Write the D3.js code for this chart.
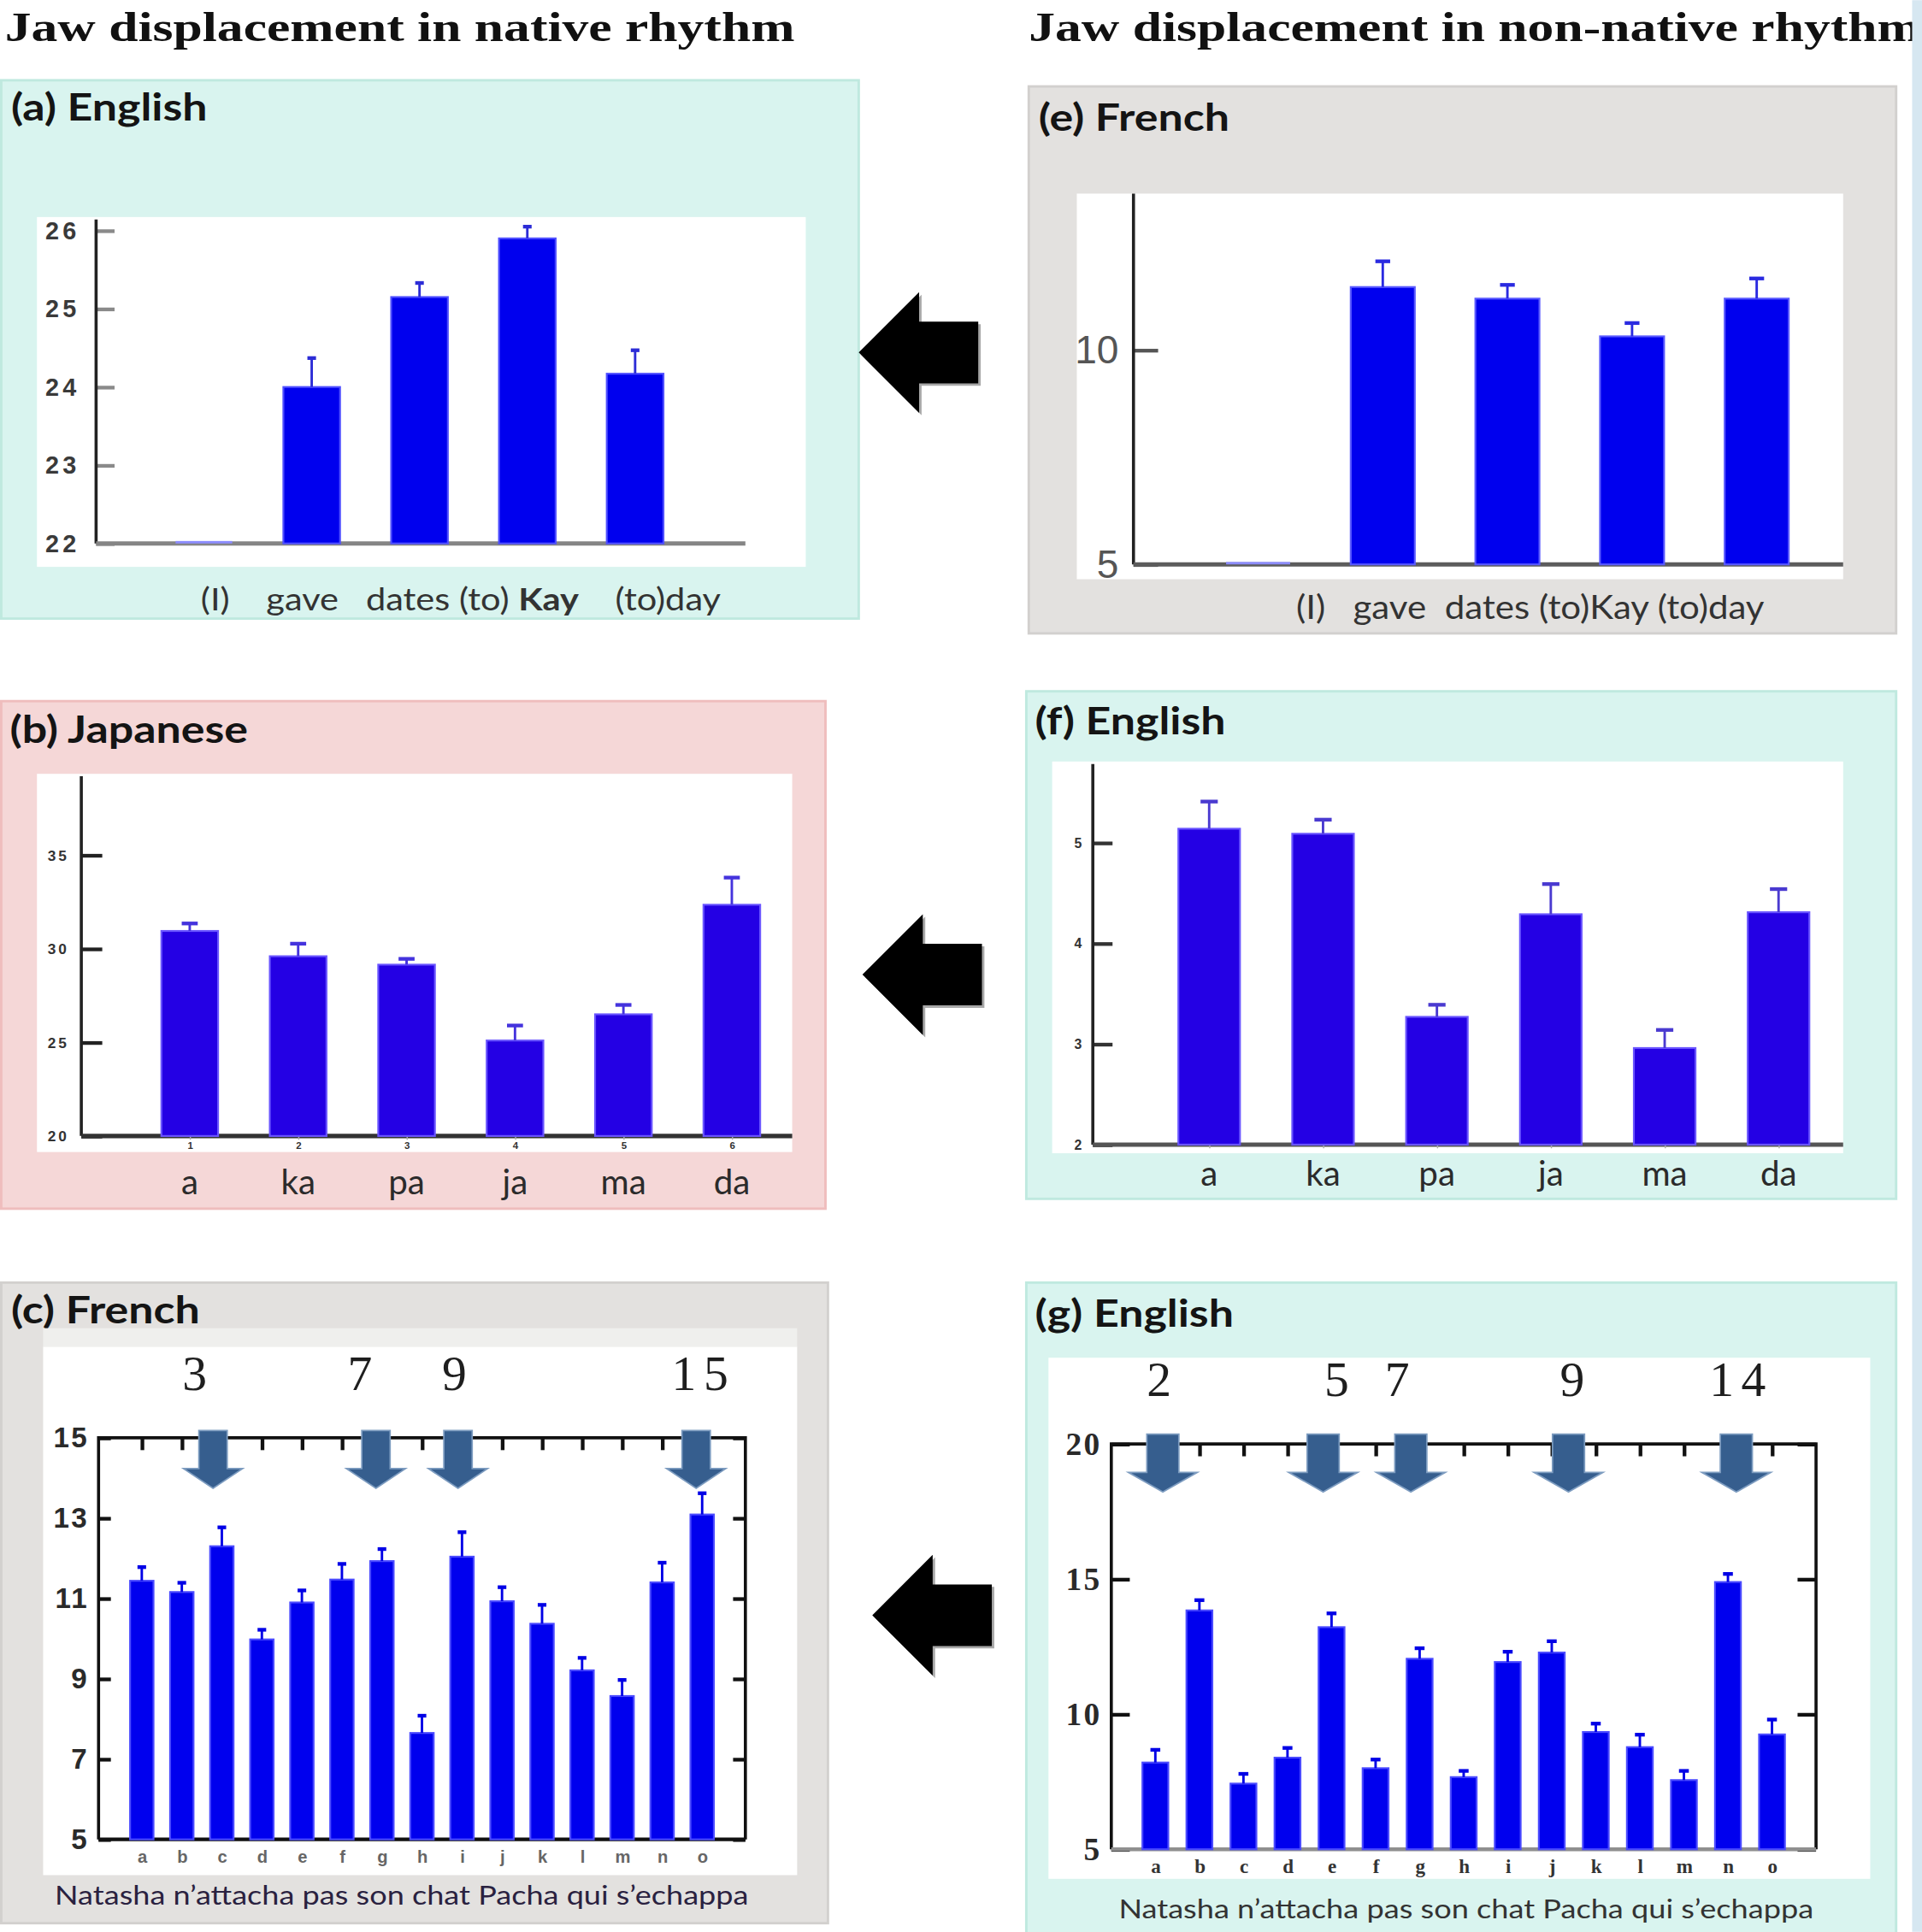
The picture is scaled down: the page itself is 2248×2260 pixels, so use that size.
<!DOCTYPE html>
<html>
<head>
<meta charset="utf-8">
<script src="https://cdn.jsdelivr.net/npm/d3@7"></script>
<style>
  body { margin: 0; background: #fff; }
</style>
</head>
<body>
<script>
// values (jaw displacement, mean and s.e.)
const wordsA = ['(I)', 'gave', 'dates', '(to)Kay', '(to)day']
const jawA = [22, 24.0, 25.15, 25.9, 24.17]
const seA = [0, 0.37, 0.18, 0.15, 0.3]
const ticksA = [22, 23, 24, 25, 26]

const jawE = [5, 11.47, 11.2, 10.32, 11.2]
const seE = [0, 0.6, 0.32, 0.31, 0.47]
const ticksE = [5, 10]

const syllables = ['a', 'ka', 'pa', 'ja', 'ma', 'da']
const jawB = [30.95, 29.6, 29.15, 25.1, 26.5, 32.35]
const seB = [0.4, 0.67, 0.31, 0.8, 0.5, 1.45]
const ticksB = [20, 25, 30, 35]

const jawF = [5.14, 5.09, 3.27, 4.29, 2.96, 4.31]
const seF = [0.27, 0.14, 0.12, 0.3, 0.18, 0.23]
const ticksF = [2, 3, 4, 5]

const letters = 'abcdefghijklmno'.split('')
const jawC = [11.44, 11.16, 12.3, 9.98, 10.9, 11.47, 11.93, 7.65, 12.04, 10.93, 10.37, 9.21, 8.57, 11.4, 13.09]
const seC = [0.34, 0.23, 0.47, 0.24, 0.3, 0.39, 0.3, 0.43, 0.61, 0.35, 0.47, 0.31, 0.4, 0.49, 0.53]
const ticksC = [5, 7, 9, 11, 13, 15]
const stressC = [3, 7, 9, 15]
const arrowAtC = [1.78, 5.85, 7.9, 13.85]   // in bar-index units

const jawG = [8.21, 13.84, 7.43, 8.39, 13.22, 8.0, 12.05, 7.67, 11.93, 12.28, 9.34, 8.78, 7.56, 14.89, 9.25]
const seG = [0.47, 0.38, 0.36, 0.36, 0.51, 0.32, 0.39, 0.23, 0.38, 0.42, 0.31, 0.46, 0.34, 0.3, 0.55]
const ticksG = [5, 10, 15, 20]
const stressG = [2, 5, 7, 9, 14]
const arrowAtG = [0.17, 3.81, 5.8, 9.38, 13.19]

const sentence = 'Natasha n\u2019attacha pas son chat Pacha qui s\u2019echappa'

const sans = 'Lato, "Open Sans", sans-serif'
const serif = '"Liberation Serif", "DejaVu Serif", serif'
const mint = '#d9f4ef', mintEdge = '#bfe9df'
const grey = '#e3e1df', greyEdge = '#d2d0ce'
const intFmt = d3.format('d')

// drawn in the 1560x1568 space of the reference, scaled up to the page
const svg = d3.select('body').append('svg')
  .attr('width', 2248).attr('height', 2260)
  .attr('viewBox', '0 0 1560 1568')

// the source figure is a bit stretched sideways; widen text to suit
function widen(sel, k) {
  sel.attr('textLength', sel.node().getComputedTextLength() * k).attr('lengthAdjust', 'spacingAndGlyphs')
  return sel
}

// headings
const h1 = svg.append('text').attr('x', 4).attr('y', 33)
  .style('font-family', serif).style('font-weight', 700).style('font-size', '33px')
  .attr('fill', '#111').text('Jaw displacement in native rhythm')
const h2 = svg.append('text').attr('x', 835).attr('y', 33)
  .style('font-family', serif).style('font-weight', 700).style('font-size', '33px')
  .attr('fill', '#111').text('Jaw displacement in non-native rhythm')
const stretch = 641 / h1.node().getComputedTextLength()
widen(h1, stretch)
widen(h2, stretch)

function panel(o) {
  const g = svg.append('g')
  g.append('rect').attr('x', o.box[0] + 1).attr('y', o.box[1]).attr('width', o.box[2] - 2).attr('height', o.box[3])
    .attr('fill', o.bg).attr('stroke', o.edge).attr('stroke-width', 2)
  const lab = g.append('text').attr('x', o.box[0] + o.labelDx).attr('y', o.labelY).text(o.label)
    .style('font-family', sans).style('font-weight', 700).style('font-size', '30px').attr('fill', '#141414')
  widen(lab, 1.2)
  g.append('rect').attr('x', o.plot[0]).attr('y', o.plot[1]).attr('width', o.plot[2]).attr('height', o.plot[3])
    .attr('fill', '#fff')
  const x = d3.scalePoint().domain(d3.range(o.vals.length)).range(o.xRange).padding(o.pad)
  const y = d3.scaleLinear().domain(o.yDomain).range(o.yRange)
  return { g, x, y }
}

function bars(p, o) {
  const { g, x, y } = p
  const base = y(o.yDomain[0])
  const rows = o.vals.map((v, i) => ({ v, i, se: o.se[i] }))
  g.append('g').selectAll('rect').data(rows).join('rect')
    .attr('x', d => x(d.i) - o.barW / 2)
    .attr('y', d => Math.min(y(d.v), base - 2))
    .attr('width', o.barW)
    .attr('height', d => Math.max(base - y(d.v), 2))
    .attr('fill', d => d.v > o.yDomain[0] ? o.color : '#8c8cff')
    .attr('stroke', d => d.v > o.yDomain[0] ? o.rim : 'none')
    .attr('stroke-width', 1.5)
  const err = rows.filter(d => d.se > 0)
  const eb = g.append('g').attr('stroke', o.errColor)
  eb.selectAll('line.stem').data(err).join('line').attr('class', 'stem')
    .attr('x1', d => x(d.i)).attr('x2', d => x(d.i))
    .attr('y1', d => y(d.v)).attr('y2', d => y(d.v + d.se))
    .attr('stroke-width', 2)
  eb.selectAll('line.cap').data(err).join('line').attr('class', 'cap')
    .attr('x1', d => x(d.i) - o.capW / 2).attr('x2', d => x(d.i) + o.capW / 2)
    .attr('y1', d => y(d.v + d.se)).attr('y2', d => y(d.v + d.se))
    .attr('stroke-width', 3)
}

function openAxes(p, o) {
  const { g, y } = p
  const base = y(o.yDomain[0])
  const ax = g.append('g').attr('transform', `translate(${o.axisX},0)`)
    .call(d3.axisLeft(y).tickValues(o.ticks).tickFormat(intFmt).tickSize(-o.tickLen).tickPadding(o.tickPad))
  ax.select('.domain').remove()
  ax.selectAll('line').attr('stroke', o.tickColor).attr('stroke-width', 3)
  ax.selectAll('text').style('font-family', o.tickFont).style('font-size', o.tickSize + 'px')
    .style('font-weight', o.tickWeight).attr('fill', o.tickFill).attr('letter-spacing', o.tickSpacing || 0)
  g.append('line').attr('x1', o.axisX).attr('x2', o.axisX).attr('y1', o.axisTop).attr('y2', base)
    .attr('stroke', '#222').attr('stroke-width', 2.5)
  g.append('line').attr('x1', o.axisX).attr('x2', o.xEnd).attr('y1', base).attr('y2', base)
    .attr('stroke', o.baseColor).attr('stroke-width', 3.5)
}

function syllableLabels(p, o) {
  const ax = p.g.append('g').attr('transform', `translate(0,${p.y(o.yDomain[0])})`)
    .call(d3.axisBottom(p.x).tickSize(3).tickPadding(2).tickFormat(i => o.digits ? i + 1 : ''))
  ax.select('.domain').remove()
  ax.selectAll('line').attr('stroke', '#aaa')
  ax.selectAll('text').style('font-size', '8px').style('font-weight', 700).attr('fill', '#333')
  p.g.append('g').selectAll('text').data(syllables).join('text')
    .attr('x', (d, i) => p.x(i)).attr('y', o.syllY).attr('text-anchor', 'middle')
    .style('font-family', sans).style('font-size', '28px').attr('fill', '#2b2b2b').text(d => d)
}

function framedAxes(p, o) {
  const { g, x, y } = p
  const [fx0, fy0, fx1, fy1] = o.frame
  const left = g.append('g').attr('transform', `translate(${fx0},0)`)
    .call(d3.axisLeft(y).tickValues(o.ticks).tickFormat(intFmt).tickSize(-o.tickLen).tickPadding(o.tickPad))
  const right = g.append('g').attr('transform', `translate(${fx1},0)`)
    .call(d3.axisRight(y).tickValues(o.ticks).tickSize(-o.tickLen).tickFormat(''))
  const top = g.append('g').attr('transform', `translate(0,${fy0})`)
    .call(d3.axisTop(x).tickSize(-10).tickFormat(''))
  const bottom = g.append('g').attr('transform', `translate(0,${fy1})`)
    .call(d3.axisBottom(x).tickSize(0).tickPadding(o.letterPad).tickFormat(i => letters[i]))
  for (const a of [left, right, top, bottom]) {
    a.select('.domain').remove()
    a.selectAll('line').attr('stroke', '#111').attr('stroke-width', 3)
  }
  left.selectAll('text').style('font-family', o.tickFont).style('font-size', o.tickSize + 'px')
    .style('font-weight', 700).attr('fill', '#2a2a2a').attr('letter-spacing', 1.5)
  bottom.selectAll('text').style('font-family', o.letterFont).style('font-size', o.letterSize + 'px')
    .style('font-weight', 700).attr('fill', o.letterFill)
  g.append('path').attr('d', `M${fx0},${fy1}V${fy0}H${fx1}V${fy1}`)
    .attr('fill', 'none').attr('stroke', '#111').attr('stroke-width', 2.5)
  g.append('line').attr('x1', fx0).attr('x2', fx1).attr('y1', fy1).attr('y2', fy1)
    .attr('stroke', o.bottomColor).attr('stroke-width', 3)
}

function stressArrows(p, o) {
  const n = o.vals.length
  const pos = d3.scaleLinear().domain([0, n - 1]).range([p.x(0), p.x(n - 1)])
  const a = o.arrow
  p.g.append('g').selectAll('path').data(o.arrowAt).join('path')
    .attr('d', d => {
      const cx = pos(d)
      return `M${cx - a.sw},${a.top}H${cx + a.sw}V${a.head}H${cx + a.hw}L${cx},${a.tip}L${cx - a.hw},${a.head}H${cx - a.sw}Z`
    })
    .attr('fill', '#365e8e').attr('stroke', '#7d9cc0').attr('stroke-width', 1.2)
  p.g.append('g').selectAll('text').data(o.stress).join('text')
    .attr('x', (d, i) => pos(o.arrowAt[i]) + o.numDx[i]).attr('y', o.numY).attr('text-anchor', 'middle')
    .style('font-family', serif).style('font-size', '40px').attr('fill', '#1e1e1e')
    .attr('letter-spacing', 6).text(d => d)
}

// (a) English, native
const optA = {
  box: [0, 65, 698, 437], bg: mint, edge: mintEdge, label: '(a) English', labelDx: 9, labelY: 98,
  plot: [30, 176, 624, 284], vals: jawA, se: seA, yDomain: [22, 26], yRange: [441, 187],
  xRange: [78, 603], pad: 1, barW: 46, color: '#0000ee', rim: '#5050ff', errColor: '#2c2cd6', capW: 7,
  axisX: 78, axisTop: 178, xEnd: 605, ticks: ticksA, tickLen: 15, tickPad: 13, tickColor: '#8a8a8a',
  tickFont: '"Liberation Sans", Arial, sans-serif', tickSize: 20, tickWeight: 700, tickFill: '#3a3a3a',
  tickSpacing: 3, baseColor: '#858585'
}
const pA = panel(optA)
openAxes(pA, optA)
bars(pA, optA)
const capA = pA.g.append('text').attr('x', 374).attr('y', 495).attr('text-anchor', 'middle')
  .attr('textLength', 422).attr('lengthAdjust', 'spacingAndGlyphs')
  .style('font-family', sans).style('font-size', '25px').style('white-space', 'pre').attr('fill', '#333')
capA.append('tspan').text(`${wordsA[0]}    ${wordsA[1]}   ${wordsA[2]} (to) `)
capA.append('tspan').style('font-weight', 700).text(wordsA[3].replace('(to)', ''))
capA.append('tspan').text(`    ${wordsA[4]}`)

// (e) French speakers, English sentence
const optE = {
  box: [834, 70, 706, 444], bg: grey, edge: greyEdge, label: '(e) French', labelDx: 9, labelY: 106,
  plot: [874, 157, 622, 313], vals: jawE, se: seE, yDomain: [5, 10], yRange: [458, 284],
  xRange: [920, 1527], pad: 1, barW: 52, color: '#0000ee', rim: '#5a5aff', errColor: '#2a2ae0', capW: 12,
  axisX: 920, axisTop: 157, xEnd: 1496, ticks: ticksE, tickLen: 20, tickPad: 12, tickColor: '#555',
  tickFont: '"Liberation Sans Narrow", "Liberation Sans", sans-serif', tickSize: 32, tickWeight: 400,
  tickFill: '#555', baseColor: '#5c5c5c'
}
const pE = panel(optE)
openAxes(pE, optE)
bars(pE, optE)
pE.g.append('text').attr('x', 1242).attr('y', 502).attr('text-anchor', 'middle')
  .attr('textLength', 380).attr('lengthAdjust', 'spacingAndGlyphs')
  .style('font-family', sans).style('font-size', '27px').style('white-space', 'pre').attr('fill', '#333')
  .text(`${wordsA[0]}   ${wordsA[1]}  ${wordsA[2]} ${wordsA[3]} ${wordsA[4]}`)

// (b) Japanese, native
const optB = {
  box: [0, 569, 671, 412], bg: '#f5d7d7', edge: '#efbdbd', label: '(b) Japanese', labelDx: 8, labelY: 603,
  plot: [30, 628, 613, 307], vals: jawB, se: seB, yDomain: [20, 35], yRange: [922, 694],
  xRange: [66, 682], pad: 1, barW: 46, color: '#2400e4', rim: '#6a55ff', errColor: '#4433dd', capW: 13,
  axisX: 66, axisTop: 630, xEnd: 643, ticks: ticksB, tickLen: 17, tickPad: 10, tickColor: '#222',
  tickFont: '"Liberation Sans", sans-serif', tickSize: 12, tickWeight: 700, tickFill: '#333',
  tickSpacing: 2, baseColor: '#333', syllY: 969, digits: true
}
const pB = panel(optB)
openAxes(pB, optB)
syllableLabels(pB, optB)
bars(pB, optB)

// (f) English speakers, Japanese syllables
const optF = {
  box: [832, 561, 708, 412], bg: mint, edge: mintEdge, label: '(f) English', labelDx: 8, labelY: 596,
  plot: [854, 618, 642, 318], vals: jawF, se: seF, yDomain: [2, 5], yRange: [929, 684],
  xRange: [889, 1536], pad: 1, barW: 50, color: '#2400e4', rim: '#6a55ff', errColor: '#4a3ad0', capW: 14,
  axisX: 887, axisTop: 620, xEnd: 1496, ticks: ticksF, tickLen: 16, tickPad: 9, tickColor: '#333',
  tickFont: '"Liberation Sans", sans-serif', tickSize: 11, tickWeight: 700, tickFill: '#333',
  baseColor: '#555', syllY: 962, digits: false
}
const pF = panel(optF)
openAxes(pF, optF)
syllableLabels(pF, optF)
bars(pF, optF)

// (c) French, native
const optC = {
  box: [0, 1041, 673, 520], bg: grey, edge: greyEdge, label: '(c) French', labelDx: 9, labelY: 1074,
  plot: [35, 1093, 612, 429], vals: jawC, se: seC, yDomain: [5, 15], yRange: [1493, 1167],
  xRange: [80, 605], pad: 1.08, barW: 19, color: '#0000ee', rim: '#4a4aff', errColor: '#0000e6', capW: 7,
  frame: [80, 1167, 605, 1493], ticks: ticksC, tickLen: 10, tickPad: 8,
  tickFont: '"Liberation Sans", sans-serif', tickSize: 23, letterFont: '"Liberation Sans", sans-serif',
  letterSize: 14, letterFill: '#666', letterPad: 9, bottomColor: '#111',
  stress: stressC, arrowAt: arrowAtC, numDx: [-12, -10, 0, 6], numY: 1128,
  arrow: { top: 1161, head: 1192, tip: 1208, sw: 11.5, hw: 24 }
}
const pC = panel(optC)
pC.g.append('rect').attr('x', 35).attr('y', 1078).attr('width', 612).attr('height', 15).attr('fill', '#efefed')
framedAxes(pC, optC)
bars(pC, optC)
stressArrows(pC, optC)
pC.g.append('text').attr('x', 326).attr('y', 1546).attr('text-anchor', 'middle')
  .attr('textLength', 563).attr('lengthAdjust', 'spacingAndGlyphs')
  .style('font-family', sans).style('font-size', '22px').attr('fill', '#2a2140').text(sentence)

// (g) English speakers, French sentence
const optG = {
  box: [832, 1041, 708, 530], bg: mint, edge: mintEdge, label: '(g) English', labelDx: 8, labelY: 1077,
  plot: [851, 1102, 667, 423], vals: jawG, se: seG, yDomain: [5, 20], yRange: [1501, 1172],
  xRange: [902, 1474], pad: 1, barW: 21, color: '#0000ee', rim: '#4a4aff', errColor: '#0000e6', capW: 8,
  frame: [902, 1172, 1474, 1501], ticks: ticksG, tickLen: 15, tickPad: 8,
  tickFont: serif, tickSize: 26, letterFont: serif, letterSize: 16, letterFill: '#333', letterPad: 8,
  bottomColor: '#8f8f8f', stress: stressG, arrowAt: arrowAtG, numDx: [0, 14, -8, 6, 4], numY: 1133,
  arrow: { top: 1164, head: 1195, tip: 1211, sw: 13, hw: 28 }
}
const pG = panel(optG)
framedAxes(pG, optG)
bars(pG, optG)
stressArrows(pG, optG)
pG.g.append('text').attr('x', 1190).attr('y', 1557).attr('text-anchor', 'middle')
  .attr('textLength', 564).attr('lengthAdjust', 'spacingAndGlyphs')
  .style('font-family', sans).style('font-size', '22px').attr('fill', '#333').text(sentence)

// black arrows pointing from each non-native panel to its native one
const leftArrows = [[697, 286], [700, 791], [708, 1311]]
const arrowPath = ([tx, cy]) =>
  `M${tx},${cy}L${tx + 49},${cy - 49}V${cy - 25}H${tx + 97}V${cy + 25}H${tx + 49}V${cy + 49}Z`
svg.append('g').selectAll('path').data(leftArrows).join('path')
  .attr('d', arrowPath).attr('fill', '#a8a8a8').attr('transform', 'translate(2,2)')
svg.append('g').selectAll('path').data(leftArrows).join('path')
  .attr('d', arrowPath).attr('fill', '#000')

// right-hand page edge
svg.append('rect').attr('x', 1552).attr('y', 0).attr('width', 8).attr('height', 1568).attr('fill', '#d6e7f1')
</script>
</body>
</html>
